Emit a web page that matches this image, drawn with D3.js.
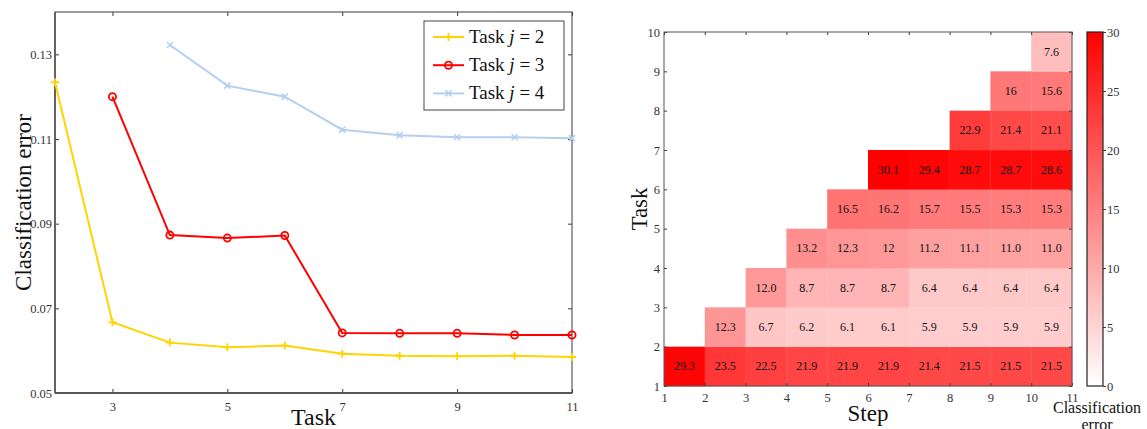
<!DOCTYPE html>
<html>
<head>
<meta charset="utf-8">
<script src="https://cdn.jsdelivr.net/npm/d3@7/dist/d3.min.js"></script>
<style>
  html, body { margin: 0; padding: 0; background: #fff; }
  svg { display: block; font-family: "Liberation Serif", "DejaVu Serif", serif; }
</style>
</head>
<body>
<svg id="chart" width="1147" height="429"></svg>
<script>
// ---- Line chart data: classification error of task j after training on later tasks ----
const taskSteps = [2, 3, 4, 5, 6, 7, 8, 9, 10, 11];
const errTask2 = [0.1234, 0.0667, 0.0619, 0.0608, 0.0612, 0.0593, 0.0588, 0.0587, 0.0588, 0.0585];
const errTask3 = [null, 0.1200, 0.0873, 0.0866, 0.0872, 0.0642, 0.0641, 0.0641, 0.0637, 0.0637];
const errTask4 = [null, null, 0.1322, 0.1226, 0.1200, 0.1122, 0.1109, 0.1104, 0.1104, 0.1102];
const lineXTicks = [3, 5, 7, 9, 11];
const lineYTicks = [0.05, 0.07, 0.09, 0.11, 0.13];
const seriesNames = ["Task j = 2", "Task j = 3", "Task j = 4"];

// ---- Heatmap data: error (%) per task row, starting step of each row ----
const heatTasks = [1, 2, 3, 4, 5, 6, 7, 8, 9];
const heatStart = [1, 2, 3, 4, 5, 6, 8, 9, 10];
const heatLabels = [
  ["29.3", "23.5", "22.5", "21.9", "21.9", "21.9", "21.4", "21.5", "21.5", "21.5"],
  ["12.3", "6.7", "6.2", "6.1", "6.1", "5.9", "5.9", "5.9", "5.9"],
  ["12.0", "8.7", "8.7", "8.7", "6.4", "6.4", "6.4", "6.4"],
  ["13.2", "12.3", "12", "11.2", "11.1", "11.0", "11.0"],
  ["16.5", "16.2", "15.7", "15.5", "15.3", "15.3"],
  ["30.1", "29.4", "28.7", "28.7", "28.6"],
  ["22.9", "21.4", "21.1"],
  ["16", "15.6"],
  ["7.6"]
];
const stepTicks = [1, 2, 3, 4, 5, 6, 7, 8, 9, 10, 11];
const taskTicks = [1, 2, 3, 4, 5, 6, 7, 8, 9, 10];
const colorTicks = [0, 5, 10, 15, 20, 25, 30];

const svg = d3.select("#chart");
const axisColor = "#3a3a3a";

// ================= Left: line chart =================
const L = { left: 55, right: 572, top: 12, bottom: 393 };
const x = d3.scaleLinear().domain([2, 11]).range([L.left, L.right]);
const y = d3.scaleLinear().domain([0.05, 0.14]).range([L.bottom, L.top]);

const gL = svg.append("g");

function styleAxis(g) {
  g.select(".domain").remove();
  g.selectAll(".tick line").attr("stroke", axisColor).attr("stroke-width", 1);
  g.selectAll(".tick text").attr("fill", "#333").style("font-family", "Liberation Serif, serif");
}

gL.append("g").attr("transform", `translate(0,${L.bottom})`)
  .call(d3.axisBottom(x).tickValues(lineXTicks).tickSize(-4).tickPadding(9).tickFormat(d3.format("d")))
  .call(styleAxis).selectAll("text").attr("font-size", 12.5);
gL.append("g").attr("transform", `translate(0,${L.top})`)
  .call(d3.axisTop(x).tickValues(lineXTicks).tickSize(-4).tickFormat(""))
  .call(styleAxis);
gL.append("g").attr("transform", `translate(${L.left},0)`)
  .call(d3.axisLeft(y).tickValues(lineYTicks).tickSize(-4).tickPadding(3).tickFormat(d3.format(".2f")))
  .call(styleAxis).selectAll("text").attr("font-size", 12.5);
gL.append("g").attr("transform", `translate(${L.right},0)`)
  .call(d3.axisRight(y).tickValues(lineYTicks).tickSize(-4).tickFormat(""))
  .call(styleAxis);

gL.append("rect")
  .attr("x", L.left).attr("y", L.top)
  .attr("width", L.right - L.left).attr("height", L.bottom - L.top)
  .attr("fill", "none").attr("stroke", axisColor).attr("stroke-width", 1);
gL.append("line").attr("x1", L.left).attr("x2", L.right).attr("y1", L.bottom).attr("y2", L.bottom)
  .attr("stroke", "#555").attr("stroke-width", 2);
gL.append("line").attr("x1", L.left).attr("x2", L.left).attr("y1", L.top).attr("y2", L.bottom)
  .attr("stroke", "#555").attr("stroke-width", 1.6);

const series = [
  { values: errTask2, color: "#ffd400", marker: "plus" },
  { values: errTask3, color: "#ff0000", marker: "circle" },
  { values: errTask4, color: "#b5cff0", marker: "cross" }
];

function drawMarker(g, kind, cx, cy, color) {
  if (kind === "plus") {
    g.append("path").attr("d", `M${cx - 4},${cy}H${cx + 4}M${cx},${cy - 4}V${cy + 4}`)
      .attr("stroke", color).attr("stroke-width", 1.8).attr("fill", "none");
  } else if (kind === "circle") {
    g.append("circle").attr("cx", cx).attr("cy", cy).attr("r", 3.6)
      .attr("stroke", color).attr("stroke-width", 1.8).attr("fill", "none");
  } else {
    g.append("path").attr("d", `M${cx - 3},${cy - 3}L${cx + 3},${cy + 3}M${cx - 3},${cy + 3}L${cx + 3},${cy - 3}`)
      .attr("stroke", color).attr("stroke-width", 1.6).attr("fill", "none");
  }
}

const line = d3.line()
  .defined(d => d.v != null)
  .x(d => x(d.s)).y(d => y(d.v));

series.forEach(s => {
  const pts = taskSteps.map((st, i) => ({ s: st, v: s.values[i] }));
  gL.append("path").datum(pts).attr("d", line)
    .attr("fill", "none").attr("stroke", s.color).attr("stroke-width", 2);
  const mg = gL.append("g");
  pts.filter(p => p.v != null).forEach(p => drawMarker(mg, s.marker, x(p.s), y(p.v), s.color));
});

// Legend
const leg = gL.append("g");
leg.append("rect").attr("x", 424).attr("y", 21).attr("width", 140).attr("height", 89)
  .attr("fill", "#fff").attr("stroke", "#444").attr("stroke-width", 1);
series.forEach((s, i) => {
  const ly = 37 + i * 28.2;
  leg.append("line").attr("x1", 433).attr("x2", 464).attr("y1", ly).attr("y2", ly)
    .attr("stroke", s.color).attr("stroke-width", 2);
  drawMarker(leg, s.marker, 448.5, ly, s.color);
  const parts = seriesNames[i].split(" ");
  const t = leg.append("text").attr("x", 469).attr("y", ly + 6).attr("font-size", 19).attr("fill", "#111");
  t.append("tspan").text(parts[0] + " ");
  t.append("tspan").attr("font-style", "italic").text(parts[1]);
  t.append("tspan").text(" " + parts[2] + " " + parts[3]);
});

// Axis titles
gL.append("text").attr("x", (L.left + L.right) / 2).attr("y", 425)
  .attr("text-anchor", "middle").attr("font-size", 24).attr("fill", "#111").text("Task");
gL.append("text").attr("transform", `translate(31,${(L.top + L.bottom) / 2}) rotate(-90)`)
  .attr("text-anchor", "middle").attr("font-size", 23).attr("fill", "#111").text("Classification error");

// ================= Right: heatmap =================
const H = { left: 664, right: 1072, top: 32, bottom: 386 };
const hx = d3.scaleLinear().domain([1, 11]).range([H.left, H.right]);
const hy = d3.scaleLinear().domain([1, 10]).range([H.bottom, H.top]);
const color = d3.scaleLinear().domain([0, 30]).range(["#ffffff", "#ff0000"]).clamp(true);

const gH = svg.append("g");

const cells = [];
heatTasks.forEach((task, r) => {
  heatLabels[r].forEach((lab, k) => {
    cells.push({ task: task, step: heatStart[r] + k, label: lab, value: +lab });
  });
});

gH.selectAll("rect.cell").data(cells).join("rect")
  .attr("class", "cell")
  .attr("x", d => hx(d.step)).attr("y", d => hy(d.task + 1))
  .attr("width", d => hx(d.step + 1) - hx(d.step) + 0.3)
  .attr("height", d => hy(d.task) - hy(d.task + 1) + 0.3)
  .attr("fill", d => color(d.value));

gH.selectAll("text.cell-label").data(cells).join("text")
  .attr("class", "cell-label")
  .attr("x", d => hx(d.step + 0.5)).attr("y", d => hy(d.task + 0.5) + 4)
  .attr("text-anchor", "middle").attr("font-size", 12).attr("fill", "#111")
  .text(d => d.label);

gH.append("g").attr("transform", `translate(0,${H.bottom})`)
  .call(d3.axisBottom(hx).tickValues(stepTicks).tickSize(-3).tickPadding(7).tickFormat(d3.format("d")))
  .call(styleAxis).selectAll("text").attr("font-size", 12.5);
gH.append("g").attr("transform", `translate(0,${H.top})`)
  .call(d3.axisTop(hx).tickValues(stepTicks).tickSize(-3).tickFormat(""))
  .call(styleAxis);
gH.append("g").attr("transform", `translate(${H.left},0)`)
  .call(d3.axisLeft(hy).tickValues(taskTicks).tickSize(-3).tickPadding(4).tickFormat(d3.format("d")))
  .call(styleAxis).selectAll("text").attr("font-size", 12.5);
gH.append("g").attr("transform", `translate(${H.right},0)`)
  .call(d3.axisRight(hy).tickValues(taskTicks).tickSize(-3).tickFormat(""))
  .call(styleAxis);

gH.append("rect")
  .attr("x", H.left).attr("y", H.top)
  .attr("width", H.right - H.left).attr("height", H.bottom - H.top)
  .attr("fill", "none").attr("stroke", "#555").attr("stroke-width", 1);

gH.append("text").attr("x", (H.left + H.right) / 2).attr("y", 421)
  .attr("text-anchor", "middle").attr("font-size", 23).attr("fill", "#111").text("Step");
gH.append("text").attr("transform", `translate(647,${(H.top + H.bottom) / 2}) rotate(-90)`)
  .attr("text-anchor", "middle").attr("font-size", 23).attr("fill", "#111").text("Task");

// Colorbar
const CB = { left: 1087, right: 1103, top: 32, bottom: 386 };
const cy = d3.scaleLinear().domain([0, 30]).range([CB.bottom, CB.top]);
const grad = svg.append("defs").append("linearGradient")
  .attr("id", "cbGrad").attr("x1", 0).attr("x2", 0).attr("y1", 1).attr("y2", 0);
grad.append("stop").attr("offset", "0%").attr("stop-color", color(0));
grad.append("stop").attr("offset", "100%").attr("stop-color", color(30));

gH.append("rect").attr("x", CB.left).attr("y", CB.top)
  .attr("width", CB.right - CB.left).attr("height", CB.bottom - CB.top)
  .attr("fill", "url(#cbGrad)").attr("stroke", "#222").attr("stroke-width", 1.2);
gH.append("g").attr("transform", `translate(${CB.right},0)`)
  .call(d3.axisRight(cy).tickValues(colorTicks).tickSize(3).tickPadding(1).tickFormat(d3.format("d")))
  .call(styleAxis).selectAll("text").attr("font-size", 12.5);

const cbTitle = gH.append("text").attr("text-anchor", "middle").attr("font-size", 16).attr("fill", "#111");
cbTitle.append("tspan").attr("x", 1097).attr("y", 413).text("Classification");
cbTitle.append("tspan").attr("x", 1097).attr("y", 430).text("error");
</script>
</body>
</html>
